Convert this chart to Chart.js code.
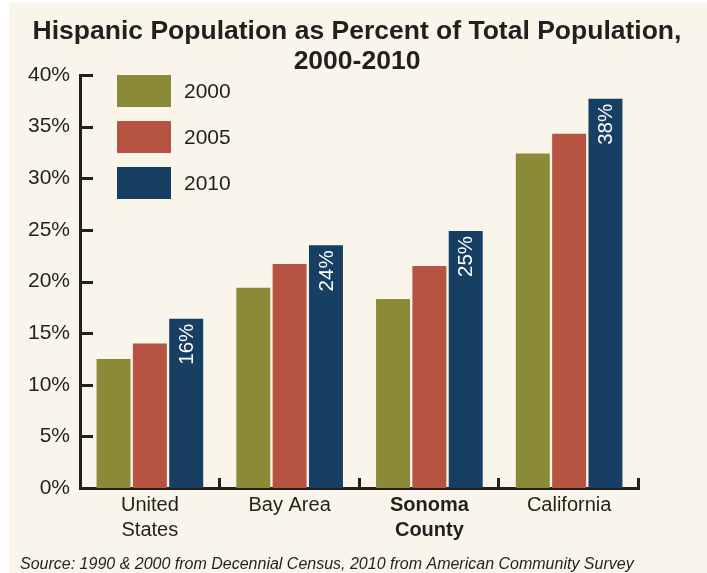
<!DOCTYPE html>
<html>
<head>
<meta charset="utf-8">
<script src="https://cdn.jsdelivr.net/npm/chart.js@4"></script>
<style>
  body { margin: 0; background: #ffffff; }
  #wrap { width: 707px; height: 573px; }
</style>
</head>
<body>
<div id="wrap"><canvas id="hispChart" width="707" height="573"></canvas></div>
<script>
// values (percent of total population)
const categories = [['United', 'States'], 'Bay Area', ['Sonoma', 'County'], 'California'];
const years = ['2000', '2005', '2010'];
const pct2000 = [12.5, 19.4, 18.3, 32.4];
const pct2005 = [14.0, 21.7, 21.5, 34.3];
const pct2010 = [16.4, 23.5, 24.9, 37.7];
const yTicks = [0, 5, 10, 15, 20, 25, 30, 35, 40];

const colors = ['#8b8a37', '#b65341', '#173f63'];
const ink = '#231f20';
const cream = '#f9f5ea';

// background, title, source note
const framePlugin = {
    id: 'frame',
    beforeDraw(chart) {
        const c = chart.ctx;
        c.save();
        c.fillStyle = cream;
        c.fillRect(9, 3, chart.width - 9, chart.height - 3);
        c.restore();
    },
    afterDraw(chart) {
        const c = chart.ctx;
        c.save();
        c.fillStyle = ink;
        c.textAlign = 'center';
        c.textBaseline = 'alphabetic';
        c.font = 'bold 26.5px "Liberation Sans", Arial, sans-serif';
        c.fillText('Hispanic Population as Percent of Total Population,', 357, 39);
        c.fillText('2000-2010', 357, 69);
        c.textAlign = 'left';
        c.font = 'italic 16px "Liberation Sans", Arial, sans-serif';
        c.fillText('Source: 1990 & 2000 from Decennial Census, 2010 from American Community Survey', 20, 569);
        c.restore();
    }
};

// tick marks pointing into the plot, as in the original
const innerTicks = {
    id: 'innerTicks',
    afterDraw(chart) {
        const c = chart.ctx;
        const x = chart.scales.x, y = chart.scales.y;
        const area = chart.chartArea;
        c.save();
        c.strokeStyle = ink;
        c.lineWidth = 3;
        c.beginPath();
        yTicks.forEach(v => {
            const py = Math.round(y.getPixelForValue(v)) + 0.5;
            c.moveTo(area.left, py);
            c.lineTo(area.left + 13, py);
        });
        const half = (x.getPixelForValue(1) - x.getPixelForValue(0)) / 2;
        for (let i = 0; i < categories.length; i++) {
            const px = Math.round(x.getPixelForValue(i) + half) - 0.5;
            c.moveTo(px, area.bottom + 1);
            c.lineTo(px, area.bottom - 10);
        }
        c.stroke();
        c.restore();
    }
};

// legend boxes inside the plot
const boxLegend = {
    id: 'boxLegend',
    afterDraw(chart) {
        const c = chart.ctx;
        c.save();
        c.font = '21px "Liberation Sans", Arial, sans-serif';
        c.textBaseline = 'middle';
        c.textAlign = 'left';
        chart.data.datasets.forEach((ds, i) => {
            const top = 75 + i * 46;
            c.fillStyle = ds.backgroundColor;
            c.fillRect(117, top, 54, 32);
            c.fillStyle = ink;
            c.fillText(ds.label, 184, top + 17);
        });
        c.restore();
    }
};

// rotated value labels on the 2010 bars
const barLabels = {
    id: 'barLabels',
    afterDatasetsDraw(chart) {
        const c = chart.ctx;
        const meta = chart.getDatasetMeta(2);
        c.save();
        c.fillStyle = '#ffffff';
        c.font = '20.5px "Liberation Sans", Arial, sans-serif';
        c.textAlign = 'right';
        c.textBaseline = 'middle';
        meta.data.forEach((bar, i) => {
            c.save();
            c.translate(bar.x + 1, bar.y + 5);
            c.rotate(-Math.PI / 2);
            c.fillText(Math.round(pct2010[i]) + '%', 0, 0);
            c.restore();
        });
        c.restore();
    }
};

const ctx = document.getElementById('hispChart').getContext('2d');
new Chart(ctx, {
    type: 'bar',
    data: {
        labels: categories,
        datasets: [
            { label: years[0], data: pct2000, backgroundColor: colors[0] },
            { label: years[1], data: pct2005, backgroundColor: colors[1] },
            { label: years[2], data: pct2010, backgroundColor: colors[2] }
        ]
    },
    options: {
        responsive: false,
        animation: false,
        events: [],
        categoryPercentage: 0.78,
        barPercentage: 0.935,
        layout: { padding: { top: 75, left: 0, right: 68, bottom: 25 } },
        plugins: {
            legend: { display: false },
            title: { display: false },
            tooltip: { enabled: false }
        },
        scales: {
            x: {
                z: 1,
                grid: { display: false, drawTicks: false },
                border: { display: true, color: ink, width: 3 },
                ticks: {
                    color: ink,
                    padding: 5,
                    maxRotation: 0,
                    font: c => ({
                        family: '"Liberation Sans", Arial, sans-serif',
                        size: 20,
                        lineHeight: 1.25,
                        weight: c.index === 2 ? 'bold' : 'normal'
                    })
                },
                afterFit(scale) { scale.height = 60; }
            },
            y: {
                min: 0,
                max: 40,
                z: 1,
                grid: { display: false, drawTicks: false },
                border: { display: true, color: ink, width: 3 },
                ticks: {
                    stepSize: 5,
                    color: ink,
                    padding: 10,
                    font: { family: '"Liberation Sans", Arial, sans-serif', size: 21 },
                    callback: v => v + '%'
                },
                afterFit(scale) { scale.width = 80; }
            }
        }
    },
    plugins: [framePlugin, innerTicks, boxLegend, barLabels]
});
</script>
</body>
</html>
